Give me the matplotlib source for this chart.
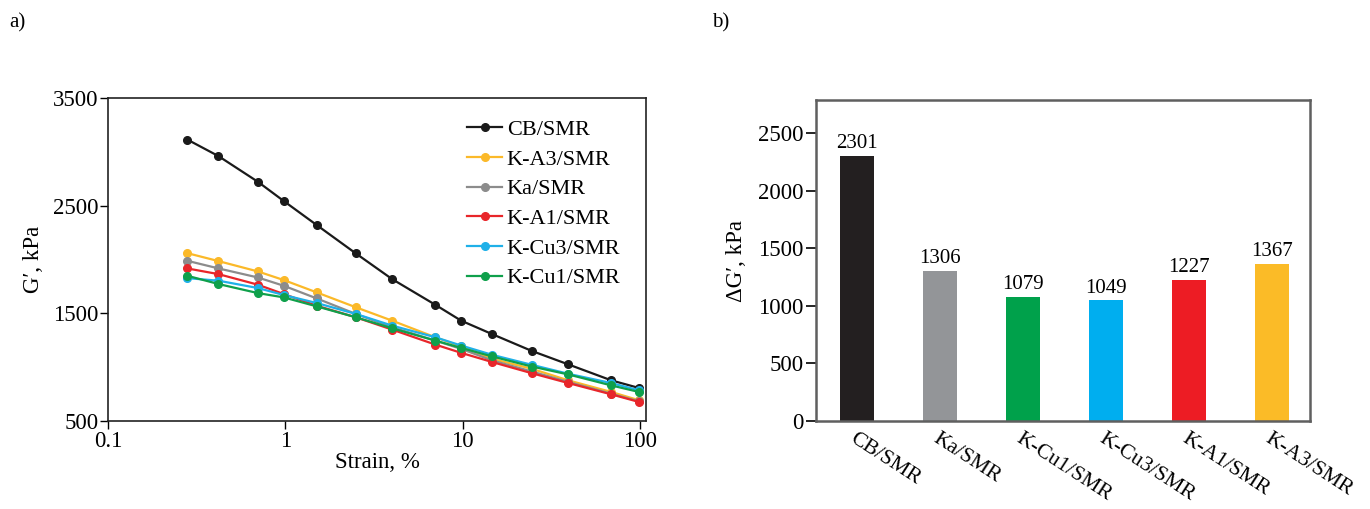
import matplotlib
matplotlib.use("Agg")
import matplotlib.pyplot as plt
from matplotlib.ticker import FixedLocator, NullLocator, FixedFormatter

plt.rcParams['font.family'] = ['Liberation Serif', 'DejaVu Serif']

# ---- data: panel a) ----
strain = [0.28, 0.42, 0.70, 0.98, 1.5, 2.5, 4.0, 7.0, 9.8, 14.7, 24.5, 39.5, 69, 99]
g_cb = [3114, 2960, 2722, 2543, 2321, 2056, 1818, 1580, 1432, 1306, 1151, 1025, 877, 806]
g_ka3 = [2059, 1985, 1889, 1809, 1695, 1556, 1432, 1278, 1192, 1077, 985, 877, 769, 692]
g_ka = [1988, 1917, 1833, 1756, 1639, 1494, 1371, 1247, 1170, 1062, 960, 862, 753, 682]
g_ka1 = [1917, 1864, 1766, 1679, 1571, 1463, 1349, 1210, 1133, 1047, 944, 852, 747, 676]
g_kcu3 = [1827, 1803, 1735, 1670, 1596, 1494, 1386, 1278, 1201, 1114, 1022, 938, 852, 784]
g_kcu1 = [1849, 1772, 1688, 1648, 1565, 1463, 1361, 1247, 1179, 1099, 1006, 932, 830, 769]
series_names = ["CB/SMR", "K-A3/SMR", "Ka/SMR", "K-A1/SMR", "K-Cu3/SMR", "K-Cu1/SMR"]
series_vals = [g_cb, g_ka3, g_ka, g_ka1, g_kcu3, g_kcu1]
series_colors = ["#1a1a1a", "#fbb929", "#8c8c8c", "#e8262a", "#1fb0e8", "#0fa04b"]

# ---- data: panel b) ----
bar_cats = ["CB/SMR", "Ka/SMR", "K-Cu1/SMR", "K-Cu3/SMR", "K-A1/SMR", "K-A3/SMR"]
bar_vals = [2301, 1306, 1079, 1049, 1227, 1367]
bar_colors = ["#231f20", "#939598", "#00a14b", "#00aeef", "#ed1c24", "#fbbb27"]

FS = 16.5

fig = plt.figure(figsize=(13.7, 5.09), dpi=100)

# ---------------- panel a ----------------
ax1 = fig.add_axes([0.0788, 0.1729, 0.4715 - 0.0788, 0.8075 - 0.1729])
for name, vals, col in zip(series_names, series_vals, series_colors):
    ax1.plot(strain, vals, '-o', color=col, lw=1.6, ms=5.5, label=name)
ax1.set_xscale('log')
ax1.set_xlim(0.1, 108)
ax1.set_ylim(500, 3500)
ax1.xaxis.set_major_locator(FixedLocator([0.1, 1, 10, 100]))
ax1.xaxis.set_major_formatter(FixedFormatter(["0.1", "1", "10", "100"]))
ax1.xaxis.set_minor_locator(NullLocator())
ax1.set_yticks([500, 1500, 2500, 3500])
ax1.tick_params(axis='both', direction='out', length=6, width=1.0, labelsize=FS, pad=1)
for sp in ax1.spines.values():
    sp.set_color('#222222')
    sp.set_linewidth(1.2)
ax1.set_xlabel("Strain, %", fontsize=FS, labelpad=0)
ax1.set_ylabel("G\u2032, kPa", fontsize=FS, labelpad=6)
leg = ax1.legend(loc='upper right', frameon=False, fontsize=16, handlelength=1.6,
                 handletextpad=0.2, labelspacing=0.41, borderaxespad=0.5,
                 bbox_to_anchor=(0.99, 0.995))

fig.text(0.007, 0.955, "a)", fontsize=15, ha='left', va='center')

# ---------------- panel b ----------------
ax2 = fig.add_axes([0.5956, 0.1729, 0.9562 - 0.5956, 0.8035 - 0.1729])
xpos = list(range(len(bar_cats)))
bars = ax2.bar(xpos, bar_vals, width=0.41, color=bar_colors)
for b, v in zip(bars, bar_vals):
    ax2.annotate(str(v), (b.get_x() + b.get_width() / 2, v), xytext=(0, 2),
                 textcoords='offset points', ha='center', va='bottom', fontsize=15)
ax2.set_xlim(-0.49, 5.46)
ax2.set_ylim(0, 2790)
ax2.set_yticks([0, 500, 1000, 1500, 2000, 2500])
ax2.set_xticks(xpos)
ax2.set_xticklabels(bar_cats, rotation=-33, ha='left', va='top',
                    rotation_mode='anchor', fontsize=15.5)
ax2.tick_params(axis='x', length=0, pad=6)
ax2.tick_params(axis='y', direction='out', length=7, width=1.2, labelsize=FS, pad=2)
for sp in ax2.spines.values():
    sp.set_color('#5f5f5f')
    sp.set_linewidth(1.8)
ax2.set_ylabel("\u0394G\u2032, kPa", fontsize=FS, labelpad=8)

fig.text(0.520, 0.955, "b)", fontsize=15, ha='left', va='center')

fig.savefig("out.png", dpi=100)
